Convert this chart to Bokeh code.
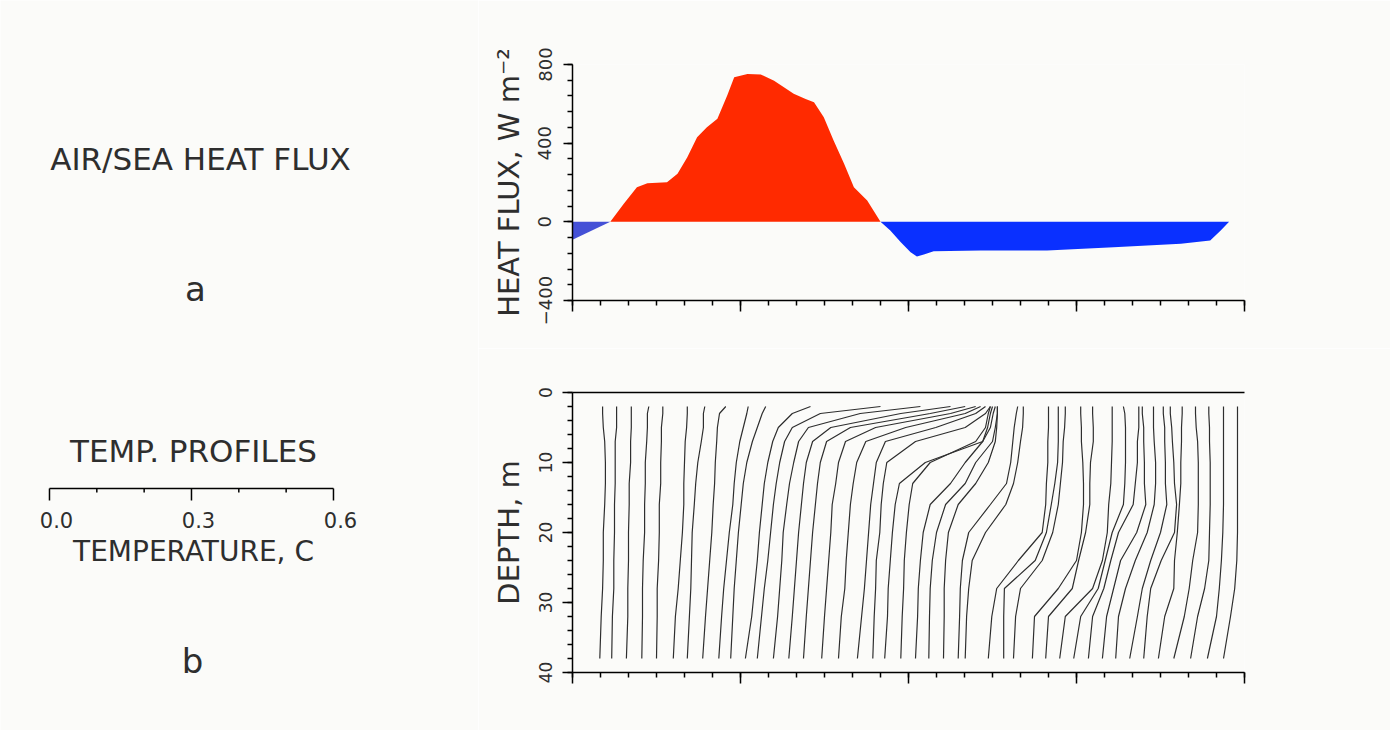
import numpy as np
from bokeh.plotting import figure
from bokeh.layouts import row, column
from bokeh.models import Range1d, LinearAxis, SingleIntervalTicker, FixedTicker, CustomJSTickFormatter
from bokeh.core.properties import value
from bokeh.embed import file_html
from bokeh.resources import INLINE

# ---------------- data ----------------
# (a) air/sea heat flux, time in hours, flux in W m^-2
flux_hours = [-0.5, 5.4, 7.3, 9.2, 10.7, 13.5, 15.0, 16.4, 17.8, 19.2, 20.7, 22.1, 23.1,
              25.0, 26.9, 28.8, 31.6, 33.3, 34.5, 35.9, 37.3, 38.8, 40.2, 42.1, 44.0,
              45.4, 46.9, 48.3, 49.2, 50.2, 51.6, 58.3, 67.8, 77.3, 86.9, 91.1, 92.6, 93.8]
flux_wm2 = [-100, 0, 91, 176, 196, 201, 244, 328, 430, 481, 524, 642, 735,
            752, 749, 718, 651, 625, 608, 532, 413, 295, 176, 108, 0,
            -44, -104, -155, -176, -166, -149, -146, -146, -129, -112, -95, -44, 0]

# (b) temperature profiles: depth levels (m) and the plotted position of each
# profile (time axis, hours; profile offset + temperature anomaly) at those depths
depth_levels = [2, 3, 5, 7, 10, 13, 16, 20, 24, 28, 32, 38]
profile_hours = [
    [4.3, 4.3, 4.4, 4.6, 4.7, 4.7, 4.6, 4.4, 4.4, 4.3, 4.1, 3.9],
    [6.3, 6.3, 6.3, 6.1, 6.1, 6.1, 6.0, 6.0, 5.9, 5.9, 5.7, 5.6],
    [8.4, 8.4, 8.4, 8.3, 8.3, 8.1, 8.1, 8.0, 8.0, 7.9, 7.9, 7.7],
    [10.9, 10.7, 10.7, 10.6, 10.4, 10.4, 10.3, 10.3, 10.1, 10.0, 10.0, 9.9],
    [12.9, 12.9, 12.7, 12.7, 12.6, 12.6, 12.4, 12.4, 12.3, 12.1, 12.1, 12.0],
    [16.4, 16.4, 16.3, 16.1, 16.0, 15.9, 15.9, 15.7, 15.4, 15.1, 14.7, 14.4],
    [18.9, 18.7, 18.7, 18.4, 17.9, 17.6, 17.4, 17.1, 17.0, 16.9, 16.7, 16.4],
    [21.9, 21.0, 20.7, 20.6, 20.4, 20.3, 20.1, 19.9, 19.6, 19.3, 19.0, 18.6],
    [25.1, 24.9, 24.4, 23.9, 23.4, 23.1, 22.9, 22.4, 22.0, 21.6, 21.3, 20.9],
    [27.6, 27.1, 26.4, 25.7, 24.9, 24.4, 24.1, 23.7, 23.4, 23.1, 22.9, 22.6],
    [34.0, 31.4, 29.4, 28.6, 27.9, 27.4, 27.1, 26.7, 26.4, 26.0, 25.6, 24.7],
    [44.0, 35.4, 31.4, 30.3, 29.6, 29.1, 28.7, 28.3, 27.9, 27.4, 27.0, 26.4],
    [49.7, 41.1, 33.7, 32.3, 31.6, 31.0, 30.6, 30.1, 29.9, 29.6, 29.3, 28.7],
    [54.0, 46.9, 36.9, 34.3, 33.4, 33.0, 32.7, 32.3, 32.0, 31.7, 31.4, 30.9],
    [56.1, 51.1, 39.7, 36.3, 35.4, 35.0, 34.7, 34.3, 34.0, 33.7, 33.4, 33.0],
    [57.6, 54.0, 43.3, 39.0, 38.0, 37.6, 37.1, 36.9, 36.6, 36.3, 36.0, 35.6],
    [58.3, 56.1, 47.6, 41.9, 40.6, 40.1, 39.7, 39.4, 39.1, 38.9, 38.4, 38.0],
    [59.0, 57.6, 51.9, 44.7, 43.4, 43.0, 42.6, 42.3, 42.0, 41.7, 41.3, 40.7],
    [59.7, 59.0, 56.1, 49.0, 44.9, 44.4, 44.1, 43.9, 43.4, 43.3, 43.1, 42.9],
    [60.4, 60.1, 59.7, 58.6, 50.4, 46.7, 46.1, 45.7, 45.4, 45.1, 45.0, 44.6],
    [59.7, 59.4, 59.0, 57.6, 51.1, 48.6, 48.1, 47.7, 47.4, 47.3, 47.1, 46.9],
    [60.0, 59.7, 59.3, 58.6, 56.1, 54.0, 51.1, 50.1, 49.7, 49.4, 49.3, 49.0],
    [60.7, 60.7, 60.4, 60.0, 57.6, 56.1, 53.3, 52.0, 51.4, 51.1, 51.0, 50.9],
    [60.7, 60.7, 60.6, 60.4, 59.4, 57.6, 55.1, 53.7, 53.3, 53.1, 53.1, 53.0],
    [63.6, 63.4, 63.1, 62.9, 62.6, 62.0, 59.7, 56.6, 55.7, 55.4, 55.3, 55.1],
    [64.4, 64.4, 64.3, 64.0, 63.6, 63.0, 61.9, 59.0, 57.1, 56.6, 56.3, 56.1],
    [68.0, 68.0, 68.0, 67.9, 67.9, 67.7, 67.6, 67.1, 63.7, 60.6, 59.9, 59.4],
    [69.4, 69.4, 69.4, 69.4, 69.3, 68.9, 68.4, 67.7, 66.1, 61.7, 61.6, 61.6],
    [70.4, 70.4, 70.3, 70.1, 70.0, 69.7, 69.4, 68.6, 67.1, 64.0, 63.3, 63.0],
    [72.6, 72.6, 72.7, 72.7, 72.9, 73.0, 73.0, 72.7, 72.0, 69.4, 66.0, 65.7],
    [74.3, 74.3, 74.4, 74.4, 74.0, 73.9, 73.9, 73.3, 72.3, 71.4, 68.0, 67.6],
    [77.1, 77.1, 77.1, 77.1, 77.0, 76.9, 76.6, 76.4, 75.7, 74.3, 70.4, 69.6],
    [78.7, 78.9, 79.0, 79.0, 79.0, 78.9, 78.7, 77.1, 76.1, 75.1, 72.6, 71.6],
    [80.9, 80.9, 80.9, 80.7, 80.7, 80.4, 80.1, 78.0, 76.9, 75.9, 74.3, 73.7],
    [81.4, 81.4, 81.6, 81.6, 81.7, 81.7, 81.9, 80.6, 78.3, 77.3, 76.3, 75.7],
    [83.0, 83.0, 83.0, 83.1, 83.3, 83.3, 83.1, 82.1, 80.4, 79.0, 78.0, 77.6],
    [84.4, 84.4, 84.6, 84.6, 84.7, 84.7, 84.9, 84.0, 82.6, 81.4, 80.7, 79.6],
    [85.4, 85.4, 85.6, 85.7, 85.9, 86.0, 86.3, 86.0, 84.1, 82.6, 82.1, 81.6],
    [87.1, 87.1, 87.0, 87.0, 86.9, 86.9, 86.7, 86.4, 86.0, 85.9, 84.6, 83.7],
    [89.0, 89.0, 89.1, 89.3, 89.4, 89.4, 89.4, 89.3, 88.6, 88.1, 87.4, 85.9],
    [90.9, 90.9, 91.0, 91.0, 91.1, 91.1, 91.1, 91.0, 90.9, 90.3, 89.3, 88.3],
    [93.0, 93.0, 93.0, 93.0, 93.0, 93.0, 93.0, 92.9, 92.7, 92.4, 92.0, 90.7],
    [95.0, 95.0, 95.0, 95.0, 95.0, 95.0, 95.0, 95.0, 94.9, 94.6, 94.0, 93.0],
]

# temperature scale bar (deg C)
temp_major = [0.0, 0.3, 0.6]
temp_minor = [0.1, 0.2, 0.4, 0.5]
temp_labels = ["0.0", "0.3", "0.6"]

# ---------------- style ----------------
BG = "#fbfbf9"
INK = "#2e2e2e"
FONT = "DejaVu Sans"
RED = "#ff2a00"
BLUE = "#0a30ff"
BLUE_L = "#4450d6"
BLANK = CustomJSTickFormatter(code="return ''")


def style_axis(ax):
    ax.axis_line_color = "black"
    ax.axis_line_width = 1.5
    ax.major_tick_line_color = "black"
    ax.minor_tick_line_color = "black"
    ax.major_tick_line_width = 1.5
    ax.minor_tick_line_width = 1.5
    ax.major_tick_in = 0
    ax.minor_tick_in = 0
    ax.major_label_text_font = FONT
    ax.major_label_text_color = INK
    ax.axis_label_text_font = FONT
    ax.axis_label_text_color = INK
    ax.axis_label_text_font_style = "normal"


# ---------------- left annotations ----------------
LW, TH, BH = 478, 348, 382
left = figure(width=LW, height=TH + BH, x_range=Range1d(-0.1035, 0.9064), y_range=Range1d(TH + BH, 0),
              output_backend="svg", toolbar_location=None,
              x_axis_location=None, y_axis_location=None,
              min_border_left=0, min_border_right=0, min_border_top=0, min_border_bottom=0)
left.extra_x_ranges = {"page": Range1d(0, LW)}
left.outline_line_color = None
left.background_fill_color = BG
left.border_fill_color = BG
left.xgrid.visible = False
left.ygrid.visible = False

tkw = dict(text_font=value(FONT), text_color=INK, text_align="center", text_baseline="middle")
left.text(x=[200], y=[158], text=["AIR/SEA HEAT FLUX"], x_range_name="page", text_font_size="31px", **tkw)
left.text(x=[195], y=[288], text=["a"], x_range_name="page", text_font_size="34px", **tkw)
left.text(x=[193], y=[450], text=["TEMP. PROFILES"], x_range_name="page", text_font_size="31px", **tkw)
left.text(x=[193], y=[551], text=["TEMPERATURE, C"], x_range_name="page", text_font_size="28px", **tkw)
left.text(x=[192], y=[660], text=["b"], x_range_name="page", text_font_size="34px", **tkw)

# scale bar drawn in temperature units
left.segment(x0=[temp_major[0]], y0=[488], x1=[temp_major[-1]], y1=[488], line_color="black", line_width=1.5)
left.segment(x0=temp_major, y0=[488] * 3, x1=temp_major, y1=[500] * 3, line_color="black", line_width=1.5)
left.segment(x0=temp_minor, y0=[488] * 4, x1=temp_minor, y1=[492] * 4, line_color="black", line_width=1.5)
left.text(x=temp_major, y=[519] * 3, text=temp_labels, text_font_size="21px", x_offset=7, **tkw)

# ---------------- (a) heat flux ----------------
h = np.array(flux_hours)
v = np.array(flux_wm2, dtype=float)

RW = 912
top = figure(width=RW, height=TH, x_range=Range1d(0, 96), y_range=Range1d(-400, 800),
             output_backend="svg", toolbar_location=None,
             min_border_left=94, min_border_right=RW - 94 - 672, min_border_top=64, min_border_bottom=TH - 64 - 236)
top.outline_line_color = None
top.background_fill_color = BG
top.border_fill_color = BG
top.grid.visible = False

m_left = h <= 5.4
m_right = h >= 44.0
top.varea(x=h[m_left], y1=np.zeros(m_left.sum()), y2=v[m_left], fill_color=BLUE_L)
top.varea(x=h, y1=np.zeros(len(h)), y2=np.maximum(v, 0), fill_color=RED)
top.varea(x=h[m_right], y1=np.zeros(m_right.sum()), y2=v[m_right], fill_color=BLUE)

top.xaxis.ticker = SingleIntervalTicker(interval=24, num_minor_ticks=6)
top.yaxis.ticker = SingleIntervalTicker(interval=400, num_minor_ticks=5)
for ax in top.xaxis + top.yaxis:
    style_axis(ax)
top.xaxis.formatter = BLANK
top.xaxis.major_tick_out = 11
top.xaxis.minor_tick_out = 5
top.yaxis.major_tick_out = 9
top.yaxis.minor_tick_out = 5
top.yaxis.major_label_orientation = "vertical"
top.yaxis.major_label_text_font_size = "18px"
top.yaxis.major_label_standoff = 12
top.yaxis.axis_label = "HEAT FLUX, W m\u207b\u00b2"
top.yaxis.axis_label_text_font_size = "29px"
top.yaxis.axis_label_standoff = 10

# ---------------- (b) temperature profiles ----------------
bot = figure(width=RW, height=BH, x_range=Range1d(0, 96), y_range=Range1d(40, 0),
             output_backend="svg", toolbar_location=None,
             min_border_left=94, min_border_right=RW - 94 - 672, min_border_top=44, min_border_bottom=BH - 44 - 280)
bot.outline_line_color = None
bot.background_fill_color = BG
bot.border_fill_color = BG
bot.grid.visible = False

bot.multi_line(xs=profile_hours, ys=[depth_levels] * len(profile_hours),
               line_color=INK, line_width=1.2)

bot.xaxis.ticker = SingleIntervalTicker(interval=24, num_minor_ticks=6)
bot.yaxis.ticker = SingleIntervalTicker(interval=10, num_minor_ticks=5)
top_line = LinearAxis(ticker=FixedTicker(ticks=[]), formatter=BLANK)
bot.add_layout(top_line, "above")
for ax in bot.xaxis + bot.yaxis + [top_line]:
    style_axis(ax)
bot.xaxis.formatter = BLANK
bot.xaxis.major_tick_out = 11
bot.xaxis.minor_tick_out = 5
bot.yaxis.major_tick_out = 10
bot.yaxis.minor_tick_out = 5
bot.yaxis.major_label_orientation = "vertical"
bot.yaxis.major_label_text_font_size = "17px"
bot.yaxis.major_label_standoff = 11
bot.yaxis.axis_label = "DEPTH, m"
bot.yaxis.axis_label_text_font_size = "29px"
bot.yaxis.axis_label_standoff = 10

layout = row(left, column(top, bot))
open("out.html", "w").write(file_html(layout, INLINE))
